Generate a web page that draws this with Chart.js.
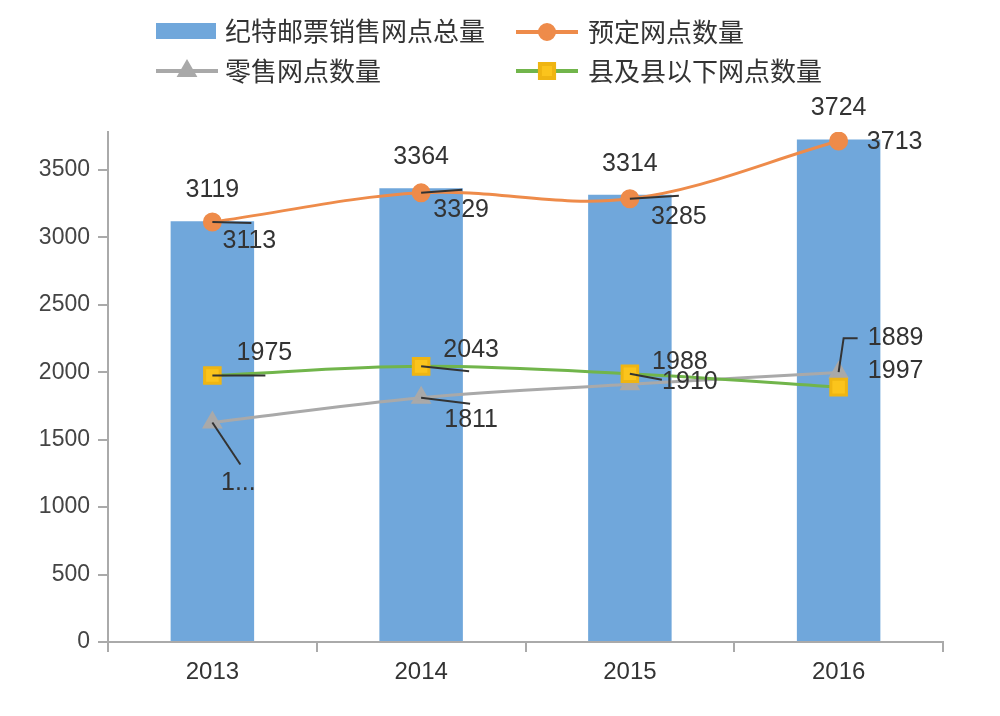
<!DOCTYPE html>
<html>
<head>
<meta charset="utf-8">
<script src="https://cdn.jsdelivr.net/npm/chart.js@4/dist/chart.umd.min.js"></script>
<style>
  body { margin: 0; background: #fff; }
  #box { width: 1000px; height: 716px; }
</style>
</head>
<body>
<div id="box"><canvas id="myChart" width="1000" height="716"></canvas></div>
<script>
// chart values
const years = ["2013", "2014", "2015", "2016"];
const seriesNames = ["纪特邮票销售网点总量", "预定网点数量", "零售网点数量", "县及县以下网点数量"];
const totalOutlets = [3119, 3364, 3314, 3724];
const bookingOutlets = [3113, 3329, 3285, 3713];
const retailOutlets = [1627, 1811, 1910, 1997];
const countyOutlets = [1975, 2043, 1988, 1889];
const yTicks = [0, 500, 1000, 1500, 2000, 2500, 3000, 3500];

// where each value label sits relative to its mark, plus its leader line
const labelPlacement = [
  [ {dx: 0, dy: -31}, {dx: 0, dy: -31}, {dx: 0, dy: -31}, {dx: 0, dy: -31} ],
  [ {dx: 37, dy: 19, leader: [[0, 0], [39, 1]]},
    {dx: 40, dy: 17, leader: [[0, 0], [41, -3]]},
    {dx: 49, dy: 18, leader: [[0, 0], [49, -3]]},
    {dx: 56, dy: 1} ],
  [ {dx: 26, dy: 61, leader: [[0, 0], [28, 42]], text: "1..."},
    {dx: 50, dy: 22, leader: [[0, 0], [49, 6]]},
    {dx: 60, dy: -2},
    {dx: 57, dy: -1} ],
  [ {dx: 52, dy: -22, leader: [[0, 0], [53, 0]]},
    {dx: 50, dy: -16, leader: [[0, 0], [48, 5]]},
    {dx: 50, dy: -12, leader: [[0, 0], [32, 6]]},
    {dx: 57, dy: -49, leader: [[0, -15], [5, -49], [19, -49]]} ]
];
const legendSlots = [ {x: 156, y: 31}, {x: 516, y: 32}, {x: 156, y: 71}, {x: 516, y: 71} ];

const valueLabels = {
  id: "valueLabels",
  afterDatasetsDraw(chart) {
    const ctx = chart.ctx;
    ctx.save();
    ctx.font = "25px 'Liberation Sans', Arial, sans-serif";
    ctx.textAlign = "center";
    ctx.textBaseline = "middle";
    chart.data.datasets.forEach((ds, i) => {
      const meta = chart.getDatasetMeta(i);
      meta.data.forEach((el, j) => {
        const p = labelPlacement[i][j];
        if (p.leader) {
          ctx.strokeStyle = "#333";
          ctx.lineWidth = 2;
          ctx.beginPath();
          p.leader.forEach((pt, k) => {
            if (k == 0) ctx.moveTo(el.x + pt[0], el.y + pt[1]);
            else ctx.lineTo(el.x + pt[0], el.y + pt[1]);
          });
          ctx.stroke();
        }
        ctx.fillStyle = "#333";
        ctx.fillText(p.text || String(ds.data[j]), el.x + p.dx, el.y + p.dy);
      });
    });
    ctx.restore();
  }
};

const sideLegend = {
  id: "sideLegend",
  afterDraw(chart) {
    const ctx = chart.ctx;
    ctx.save();
    chart.data.datasets.forEach((ds, i) => {
      const s = legendSlots[i];
      if (ds.type == "bar") {
        ctx.fillStyle = ds.backgroundColor;
        ctx.fillRect(s.x, s.y - 8, 60, 16);
      } else {
        ctx.strokeStyle = ds.borderColor;
        ctx.lineWidth = 4;
        ctx.beginPath();
        ctx.moveTo(s.x, s.y);
        ctx.lineTo(s.x + 62, s.y);
        ctx.stroke();
        ctx.fillStyle = ds.pointBackgroundColor;
        ctx.strokeStyle = ds.pointBorderColor;
        Chart.helpers.drawPoint(ctx, {
          pointStyle: ds.pointStyle, radius: ds.pointRadius - 1, rotation: 0, borderWidth: 1
        }, s.x + 31, s.y);
      }
      ctx.fillStyle = "#333";
      ctx.font = "26px 'Noto Sans CJK SC', sans-serif";
      ctx.textAlign = "left";
      ctx.textBaseline = "middle";
      ctx.fillText(ds.label, s.x + (i % 2 == 0 ? 69 : 72), s.y);
    });
    ctx.restore();
  }
};

const ctx = document.getElementById("myChart").getContext("2d");
const myChart = new Chart(ctx, {
  data: {
    labels: years,
    datasets: [
      {
        type: "bar",
        label: seriesNames[0],
        data: totalOutlets,
        backgroundColor: "#70a7db",
        barPercentage: 0.4,
        categoryPercentage: 1.0,
        order: 4,
      },
      {
        type: "line",
        label: seriesNames[1],
        data: bookingOutlets,
        borderColor: "#ee8b4a",
        borderWidth: 3,
        pointStyle: "circle",
        pointRadius: 8,
        pointBackgroundColor: "#ee8b4a",
        pointBorderColor: "#ee8b4a",
        tension: 0.35,
        order: 1,
      },
      {
        type: "line",
        label: seriesNames[2],
        data: retailOutlets,
        borderColor: "#a9a9a9",
        borderWidth: 3,
        pointStyle: "triangle",
        pointRadius: 9,
        pointBackgroundColor: "#a9a9a9",
        pointBorderColor: "#a9a9a9",
        tension: 0.35,
        order: 3,
      },
      {
        type: "line",
        label: seriesNames[3],
        data: countyOutlets,
        borderColor: "#71b54b",
        borderWidth: 3,
        pointStyle: "rect",
        pointRadius: 11,
        pointBackgroundColor: "#fbc41c",
        pointBorderColor: "#efb512",
        tension: 0.35,
        order: 2,
      },
    ],
  },
  options: {
    responsive: false,
    animation: false,
    layout: { padding: { left: 0, right: 57, top: 132, bottom: 0 } },
    plugins: {
      legend: { display: false },
      tooltip: { enabled: false },
    },
    scales: {
      x: {
        grid: { offset: true, drawOnChartArea: false, tickLength: 10, color: "#aaa", lineWidth: 2 },
        border: { color: "#aaa", width: 2 },
        ticks: { color: "#333", font: { size: 24, family: "'Liberation Sans', Arial" }, padding: 6 },
        afterFit(scale) { scale.height = 74; },
      },
      y: {
        min: 0,
        max: 3780,
        grid: { drawOnChartArea: false, tickLength: 10, color: "#aaa", lineWidth: 2 },
        border: { color: "#aaa", width: 2 },
        ticks: {
          autoSkip: false, color: "#444", padding: 8,
          font: { size: 23, family: "'Liberation Sans', Arial" },
          callback: (v) => String(v),
        },
        afterBuildTicks(scale) {
          scale.ticks = yTicks.map((v) => ({ value: v }));
        },
        afterFit(scale) { scale.width = 108; },
      },
    },
  },
  plugins: [valueLabels, sideLegend],
});
</script>
</body>
</html>
